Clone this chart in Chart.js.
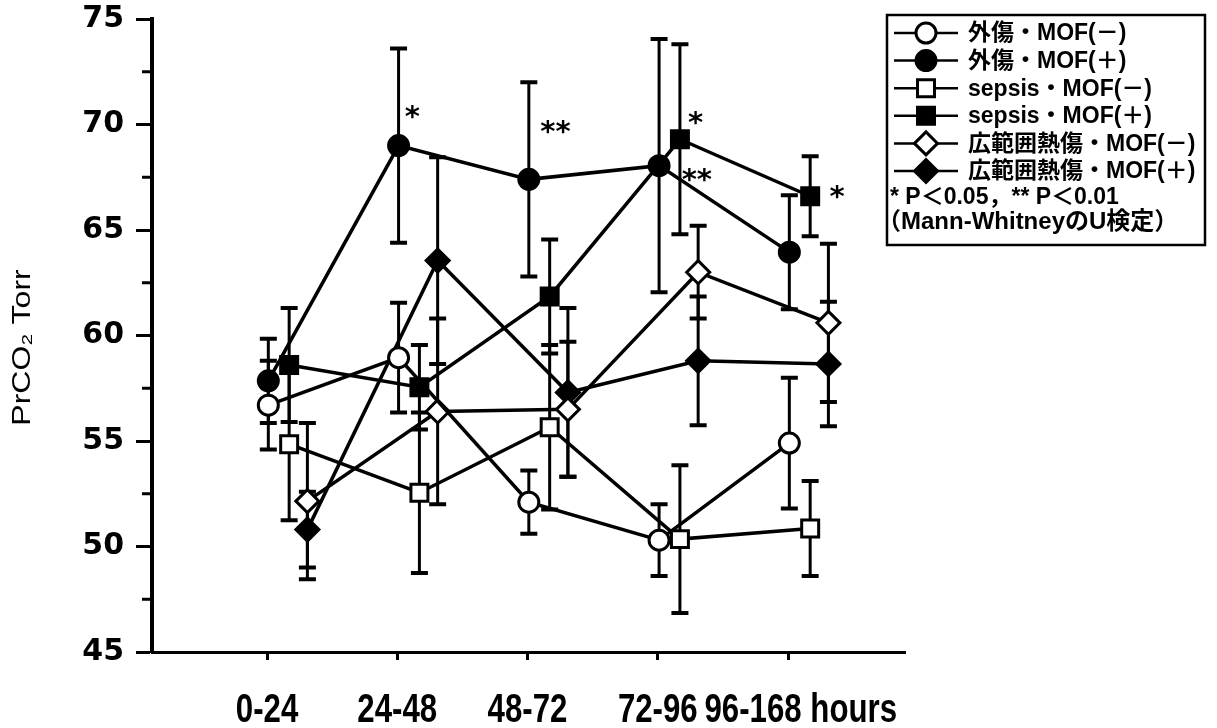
<!DOCTYPE html>
<html>
<head>
<meta charset="utf-8">
<script src="https://cdn.jsdelivr.net/npm/chart.js@4/dist/chart.umd.min.js"></script>
<style>
html, body { margin: 0; padding: 0; background: #fff; }
</style>
</head>
<body>
<canvas id="prco2Chart" width="1217" height="728"></canvas>
<script>
// time windows after admission
const periods = ['0-24', '24-48', '48-72', '72-96', '96-168'];

// mean PrCO2 (Torr) and SD per group
const traumaMofNeg = [56.7, 58.95, 52.1, 50.3, 54.9];
const traumaMofNegSd = [2.1, 2.6, 1.5, 1.7, 3.1];
const traumaMofPos = [57.85, 69.0, 67.4, 68.05, 63.95];
const traumaMofPosSd = [2.0, 4.6, 4.6, 6.0, 2.7];
const sepsisMofNeg = [54.85, 52.55, 55.65, 50.35, 50.85];
const sepsisMofNegSd = [3.6, 3.8, 3.9, 3.5, 2.25];
const sepsisMofPos = [58.6, 57.55, 61.85, 69.3, 66.6];
const sepsisMofPosSd = [2.7, 2.0, 2.7, 4.5, 1.9];
const burnMofNeg = [52.15, 56.4, 56.5, 63.0, 60.6];
const burnMofNegSd = [3.7, 4.4, 3.2, 2.2, 3.75];
const burnMofPos = [50.8, 63.55, 57.3, 58.8, 58.65];
const burnMofPosSd = [1.8, 4.9, 4.0, 3.05, 2.95];

const seriesNames = ['外傷・MOF(－)', '外傷・MOF(＋)', 'sepsis・MOF(－)', 'sepsis・MOF(＋)', '広範囲熱傷・MOF(－)', '広範囲熱傷・MOF(＋)'];

// significance marks: text, period index (1-based, fractional), PrCO2 level
const sigText = ['*', '**', '*', '**', '*'];
const sigPeriod = [2.115, 3.215, 4.29, 4.3, 5.376];
const sigLevel = [70.65, 69.95, 70.35, 67.65, 66.85];

const legendNotes = ['* P＜0.05，** P＜0.01', '（Mann-WhitneyのU検定）'];

// horizontal nudge of each marker group so the error bars don't sit on top of each other
const groupShift = { circle: 0.01, rect: 0.17, rectRot: 0.31 };
const markerRadius = { circle: 10, rect: 12, rectRot: 11.5 };

function makeSeries(label, values, sd, style, filled) {
    return {
        label: label,
        data: values.map((v, i) => ({ x: i + 1 + groupShift[style], y: v })),
        sd: sd,
        borderColor: '#000',
        borderWidth: 3.5,
        pointStyle: style,
        pointRadius: markerRadius[style],
        pointHoverRadius: markerRadius[style],
        pointBorderWidth: 3,
        pointBorderColor: '#000',
        pointBackgroundColor: filled ? '#000' : '#fff',
        tension: 0,
        clip: false,
    };
}

function drawMarker(ctx, style, filled, x, y) {
    let r = markerRadius[style];
    ctx.beginPath();
    if (style === 'circle') {
        ctx.arc(x, y, r, 0, Math.PI * 2);
    } else if (style === 'rect') {
        let s = r * Math.SQRT1_2;
        ctx.rect(x - s, y - s, 2 * s, 2 * s);
    } else {
        ctx.moveTo(x - r, y); ctx.lineTo(x, y - r); ctx.lineTo(x + r, y); ctx.lineTo(x, y + r);
        ctx.closePath();
    }
    ctx.fillStyle = filled ? '#000' : '#fff';
    ctx.fill();
    ctx.lineWidth = 3;
    ctx.strokeStyle = '#000';
    ctx.stroke();
}

// draws text squeezed/stretched along its own direction
function fillTextScaled(ctx, text, x, y, sx) {
    ctx.save();
    ctx.translate(x, y);
    ctx.scale(sx, 1);
    ctx.fillText(text, 0, 0);
    ctx.restore();
}

const errorBars = {
    id: 'errorBars',
    beforeDatasetsDraw(chart) {
        let { ctx, scales: { x, y } } = chart;
        ctx.save();
        ctx.strokeStyle = '#000';
        chart.data.datasets.forEach(ds => {
            ds.data.forEach((p, i) => {
                let px = x.getPixelForValue(p.x);
                let top = y.getPixelForValue(p.y + ds.sd[i]);
                let bot = y.getPixelForValue(p.y - ds.sd[i]);
                ctx.lineWidth = 3;
                ctx.beginPath();
                ctx.moveTo(px, top); ctx.lineTo(px, bot);
                ctx.stroke();
                ctx.lineWidth = 4;
                ctx.beginPath();
                ctx.moveTo(px - 8.5, top); ctx.lineTo(px + 8.5, top);
                ctx.moveTo(px - 8.5, bot); ctx.lineTo(px + 8.5, bot);
                ctx.stroke();
            });
        });
        ctx.restore();
    }
};

const extras = {
    id: 'extras',
    afterDraw(chart) {
        let { ctx, scales: { x, y } } = chart;
        ctx.save();
        // minor ticks on the y axis
        ctx.strokeStyle = '#000';
        ctx.lineWidth = 3;
        for (let v = 47.5; v < 75; v += 5) {
            let py = y.getPixelForValue(v);
            ctx.beginPath();
            ctx.moveTo(x.left - 10, py); ctx.lineTo(x.left, py);
            ctx.stroke();
        }

        // significance asterisks
        ctx.fillStyle = '#000';
        ctx.font = 'bold 29px "DejaVu Sans"';
        ctx.textAlign = 'center';
        ctx.textBaseline = 'alphabetic';
        sigText.forEach((t, i) => {
            ctx.fillText(t, x.getPixelForValue(sigPeriod[i]), y.getPixelForValue(sigLevel[i]) + 15);
        });

        // period labels under the x ticks (narrow face is not installed, so squeeze)
        ctx.font = 'bold 40px "Liberation Sans", Arial, sans-serif';
        let baseY = x.top + 70;
        periods.forEach((p, i) => {
            if (i === periods.length - 1) return;
            ctx.textAlign = 'center';
            fillTextScaled(ctx, p, x.getPixelForValue(i + 1), baseY, 0.78);
        });
        ctx.textAlign = 'right';
        fillTextScaled(ctx, periods[periods.length - 1] + ' hours', x.right - 8, baseY, 0.78);

        // y axis title
        ctx.save();
        ctx.translate(23, (y.top + y.bottom) / 2 + 12);
        ctx.rotate(-Math.PI / 2);
        ctx.font = '25px "Liberation Sans", Arial, sans-serif';
        ctx.textAlign = 'center';
        ctx.textBaseline = 'middle';
        fillTextScaled(ctx, 'PrCO₂ Torr', 0, 0, 1.28);
        ctx.restore();

        // legend box
        let bx = 887, by = 15, bw = 318, bh = 230;
        ctx.lineWidth = 2.5;
        ctx.strokeRect(bx, by, bw, bh);
        ctx.font = 'bold 23px "Liberation Sans", "Noto Sans CJK JP", sans-serif';
        ctx.textAlign = 'left';
        ctx.textBaseline = 'middle';
        chart.data.datasets.forEach((ds, i) => {
            let ry = 33 + i * 27.6;
            ctx.lineWidth = 2.5;
            ctx.beginPath();
            ctx.moveTo(894, ry); ctx.lineTo(958, ry);
            ctx.stroke();
            drawMarker(ctx, ds.pointStyle, ds.pointBackgroundColor === '#000', 926, ry);
            ctx.fillStyle = '#000';
            ctx.fillText(ds.label, 968, ry + 1);
        });
        ctx.font = 'bold 23px "Liberation Sans", "Noto Sans CJK JP", sans-serif';
        ctx.fillText(legendNotes[0], 890, 198);
        ctx.font = 'bold 24px "Liberation Sans", "Noto Sans CJK JP", sans-serif';
        ctx.fillText(legendNotes[1], 877, 222);
        ctx.restore();
    }
};

document.addEventListener('DOMContentLoaded', () => {
    let ctx = document.getElementById('prco2Chart').getContext('2d');
    new Chart(ctx, {
        type: 'line',
        data: {
            datasets: [
                makeSeries(seriesNames[0], traumaMofNeg, traumaMofNegSd, 'circle', false),
                makeSeries(seriesNames[1], traumaMofPos, traumaMofPosSd, 'circle', true),
                makeSeries(seriesNames[2], sepsisMofNeg, sepsisMofNegSd, 'rect', false),
                makeSeries(seriesNames[3], sepsisMofPos, sepsisMofPosSd, 'rect', true),
                makeSeries(seriesNames[4], burnMofNeg, burnMofNegSd, 'rectRot', false),
                makeSeries(seriesNames[5], burnMofPos, burnMofPosSd, 'rectRot', true),
            ]
        },
        options: {
            responsive: false,
            animation: false,
            events: [],
            layout: { padding: { top: 19, right: 312, left: 0, bottom: 0 } },
            plugins: { legend: { display: false }, tooltip: { enabled: false } },
            scales: {
                x: {
                    type: 'linear',
                    min: 0.117,
                    max: 5.898,
                    afterFit: (scale) => { scale.height = 76; scale.paddingLeft = 0; scale.paddingRight = 0; },
                    afterBuildTicks: (scale) => { scale.ticks = periods.map((p, i) => ({ value: i + 1 })); },
                    border: { display: true, color: '#000', width: 3 },
                    grid: { drawOnChartArea: false, drawTicks: true, tickLength: 8, tickWidth: 3, tickColor: '#000' },
                    ticks: { display: false },
                },
                y: {
                    min: 45,
                    max: 75,
                    afterFit: (scale) => { scale.width = 152; scale.paddingTop = 0; scale.paddingBottom = 0; },
                    border: { display: true, color: '#000', width: 4 },
                    grid: { drawOnChartArea: false, drawTicks: true, tickLength: 16, tickWidth: 3, tickColor: '#000' },
                    ticks: {
                        stepSize: 5,
                        color: '#000',
                        padding: 12,
                        font: { family: '"DejaVu Sans"', weight: 'bold', size: 30 },
                    },
                },
            },
        },
        plugins: [errorBars, extras],
    });
});
</script>
</body>
</html>
